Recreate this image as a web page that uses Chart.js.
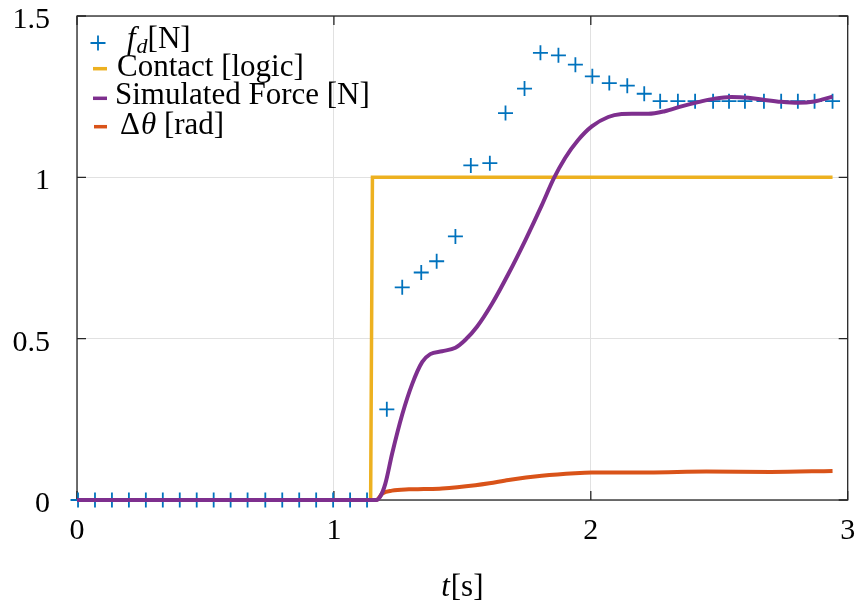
<!DOCTYPE html>
<html>
<head>
<meta charset="utf-8">
<script src="https://cdn.jsdelivr.net/npm/chart.js@4/dist/chart.umd.min.js"></script>
<style>
  html, body { margin: 0; padding: 0; background: #ffffff; }
  #wrap { width: 857px; height: 605px; }
</style>
</head>
<body>
<div id="wrap"><canvas id="c" width="857" height="605"></canvas></div>
<script>
// Measured contact force f_d (sampled)
const fdTime = [0.004, 0.070, 0.136, 0.202, 0.268, 0.334, 0.400, 0.466, 0.532, 0.598,
  0.664, 0.733, 0.799, 0.865, 0.931, 0.997, 1.063, 1.129, 1.206, 1.266, 1.340, 1.400,
  1.473, 1.533, 1.607, 1.668, 1.742, 1.804, 1.874, 1.940, 2.006, 2.072, 2.142, 2.208,
  2.270, 2.339, 2.406, 2.476, 2.538, 2.600, 2.674, 2.741, 2.806, 2.871, 2.941];
const fdValue = [0, 0, 0, 0, 0, 0, 0, 0, 0, 0, 0, 0, 0, 0, 0, 0, 0, 0,
  0.281, 0.659, 0.705, 0.740, 0.817, 1.037, 1.044, 1.199, 1.275, 1.386, 1.378, 1.349,
  1.313, 1.292, 1.284, 1.259, 1.236, 1.236, 1.236, 1.236, 1.236, 1.236, 1.236, 1.236,
  1.236, 1.236, 1.236];

// Contact flag (logic)
const contactTime = [0, 1.143, 1.15, 2.941];
const contactValue = [0, 0, 1, 1];

// Simulated force [N]
const simTime = [0, 1.14, 1.165, 1.18, 1.2, 1.227, 1.266, 1.305, 1.344, 1.375, 1.421,
  1.473, 1.51, 1.557, 1.616, 1.68, 1.745, 1.809, 1.855, 1.9, 1.95, 2.004, 2.068,
  2.12, 2.16, 2.224, 2.288, 2.353, 2.418, 2.482, 2.547, 2.612, 2.676, 2.741, 2.806,
  2.87, 2.941];
const simValue = [0, 0, 0, 0.01, 0.05, 0.145, 0.265, 0.36, 0.428, 0.452, 0.461,
  0.472, 0.495, 0.537, 0.609, 0.702, 0.805, 0.913, 0.995, 1.06, 1.115, 1.158, 1.187,
  1.196, 1.197, 1.197, 1.205, 1.220, 1.233, 1.244, 1.249, 1.247, 1.240, 1.234, 1.231,
  1.235, 1.25];

// Joint angle change [rad]
const dthetaTime = [0, 1.165, 1.19, 1.226, 1.292, 1.35, 1.421, 1.551, 1.605, 1.68,
  1.809, 1.939, 2.004, 2.224, 2.45, 2.7, 2.941];
const dthetaValue = [0, 0, 0.021, 0.029, 0.033, 0.034, 0.036, 0.046, 0.052, 0.062,
  0.075, 0.083, 0.085, 0.085, 0.088, 0.087, 0.090];

// Axis ticks
const xTicks = [0, 1, 2, 3];
const yTicks = [0, 0.5, 1, 1.5];

const BLUE = '#0072BD', ORANGE = '#D95319', YELLOW = '#EDB120', PURPLE = '#7E2F8E';
const SERIF = '"Liberation Serif", "Times New Roman", serif';

const pts = (xs, ys) => xs.map((x, i) => ({ x: x, y: ys[i] }));

// Axes box with inward tick marks, drawn under the data
const framePlugin = {
  id: 'frame',
  beforeDatasetsDraw(chart) {
    const { ctx, chartArea: a, scales: { x, y } } = chart;
    ctx.save();
    ctx.strokeStyle = '#262626';
    ctx.lineWidth = 1.3;
    ctx.strokeRect(a.left, a.top, a.right - a.left, a.bottom - a.top);
    const tl = 9;
    ctx.beginPath();
    xTicks.forEach(v => {
      const px = x.getPixelForValue(v);
      ctx.moveTo(px, a.bottom); ctx.lineTo(px, a.bottom - tl);
      ctx.moveTo(px, a.top); ctx.lineTo(px, a.top + tl);
    });
    yTicks.forEach(v => {
      const py = y.getPixelForValue(v);
      ctx.moveTo(a.left, py); ctx.lineTo(a.left + tl, py);
      ctx.moveTo(a.right, py); ctx.lineTo(a.right - tl, py);
    });
    ctx.stroke();
    ctx.restore();
  }
};

// In-plot legend and x-axis title with mixed italic text
const annotatePlugin = {
  id: 'annotate',
  afterDraw(chart) {
    const ctx = chart.ctx;
    ctx.save();
    ctx.textBaseline = 'alphabetic';
    ctx.textAlign = 'left';
    ctx.fillStyle = '#000';

    // row 1: + f_d[N]
    ctx.strokeStyle = BLUE; ctx.lineWidth = 1.8;
    ctx.beginPath();
    ctx.moveTo(90.5, 43); ctx.lineTo(105.5, 43);
    ctx.moveTo(98, 35.5); ctx.lineTo(98, 50.5);
    ctx.stroke();
    let xp = 127;
    ctx.font = 'italic 31px ' + SERIF;
    ctx.fillText('f', xp, 48); xp += ctx.measureText('f').width + 1;
    ctx.font = 'italic 22px ' + SERIF;
    ctx.fillText('d', xp, 53); xp += ctx.measureText('d').width;
    ctx.font = '31px ' + SERIF;
    ctx.fillText('[N]', xp, 48);

    // line entries
    const rows = [
      { color: YELLOW, y: 68.7, x0: 93, x1: 107 },
      { color: PURPLE, y: 98.3, x0: 93, x1: 107 },
      { color: ORANGE, y: 126.7, x0: 94, x1: 107 }
    ];
    rows.forEach(r => {
      ctx.strokeStyle = r.color; ctx.lineWidth = 3.5;
      ctx.beginPath(); ctx.moveTo(r.x0, r.y); ctx.lineTo(r.x1, r.y); ctx.stroke();
    });
    ctx.font = '31px ' + SERIF;
    ctx.fillText(chart.data.datasets[2].label, 117, 76);
    ctx.fillText(chart.data.datasets[0].label, 115, 103.5);

    // Δθ [rad]
    xp = 120;
    ctx.fillText('\u0394', xp, 134); xp += ctx.measureText('\u0394').width + 1;
    ctx.font = 'italic 31px ' + SERIF;
    ctx.fillText('\u03B8', xp, 134); xp += ctx.measureText('\u03B8').width;
    ctx.font = '31px ' + SERIF;
    ctx.fillText(' [rad]', xp, 134);

    // x-axis title: t[s]
    ctx.font = 'italic 31px ' + SERIF;
    const wT = ctx.measureText('t').width;
    ctx.font = '31px ' + SERIF;
    const wS = ctx.measureText('[s]').width;
    const cx = chart.scales.x.getPixelForValue(1.5);
    let tx = cx - (wT + wS + 1) / 2;
    ctx.font = 'italic 31px ' + SERIF;
    ctx.fillText('t', tx, 596);
    ctx.font = '31px ' + SERIF;
    ctx.fillText('[s]', tx + wT + 1, 596);
    ctx.restore();
  }
};

new Chart(document.getElementById('c'), {
  type: 'line',
  data: {
    datasets: [
      {
        label: 'Simulated Force [N]',
        data: pts(simTime, simValue),
        borderColor: PURPLE, borderWidth: 4, pointRadius: 0,
        cubicInterpolationMode: 'monotone', order: 0, clip: false
      },
      {
        label: '\u0394\u03B8 [rad]',
        data: pts(dthetaTime, dthetaValue),
        borderColor: ORANGE, borderWidth: 4, pointRadius: 0,
        cubicInterpolationMode: 'monotone', order: 1, clip: false
      },
      {
        label: 'Contact [logic]',
        data: pts(contactTime, contactValue),
        borderColor: YELLOW, borderWidth: 3.5, pointRadius: 0,
        tension: 0, order: 2, clip: false
      },
      {
        label: 'f_d [N]',
        data: pts(fdTime, fdValue),
        showLine: false, pointStyle: 'cross', pointRadius: 7.5,
        borderColor: BLUE, backgroundColor: BLUE, pointBorderWidth: 1.8,
        order: 3, clip: false
      }
    ]
  },
  options: {
    responsive: false,
    animation: false,
    events: [],
    layout: { padding: { top: 16, right: 6, left: 0, bottom: 0 } },
    plugins: { legend: { display: false }, tooltip: { enabled: false } },
    scales: {
      x: {
        type: 'linear', min: 0, max: 3,
        afterBuildTicks: s => { s.ticks = xTicks.map(v => ({ value: v })); },
        ticks: { font: { family: SERIF, size: 30 }, color: '#000', padding: 13,
                 maxRotation: 0, callback: v => String(v) },
        grid: { color: '#e1e1e1', lineWidth: 1, drawTicks: false },
        border: { display: false },
        afterFit: s => { s.height = 105; s.paddingLeft = 0; s.paddingRight = 0; }
      },
      y: {
        type: 'linear', min: 0, max: 1.5,
        afterBuildTicks: s => { s.ticks = yTicks.map(v => ({ value: v })); },
        ticks: { font: { family: SERIF, size: 30 }, color: '#000', padding: 27,
                 labelOffset: 4, callback: v => String(v) },
        grid: { color: '#e1e1e1', lineWidth: 1, drawTicks: false },
        border: { display: false },
        afterFit: s => { s.width = 77; s.paddingTop = 0; s.paddingBottom = 0; }
      }
    }
  },
  plugins: [framePlugin, annotatePlugin]
});
</script>
</body>
</html>
